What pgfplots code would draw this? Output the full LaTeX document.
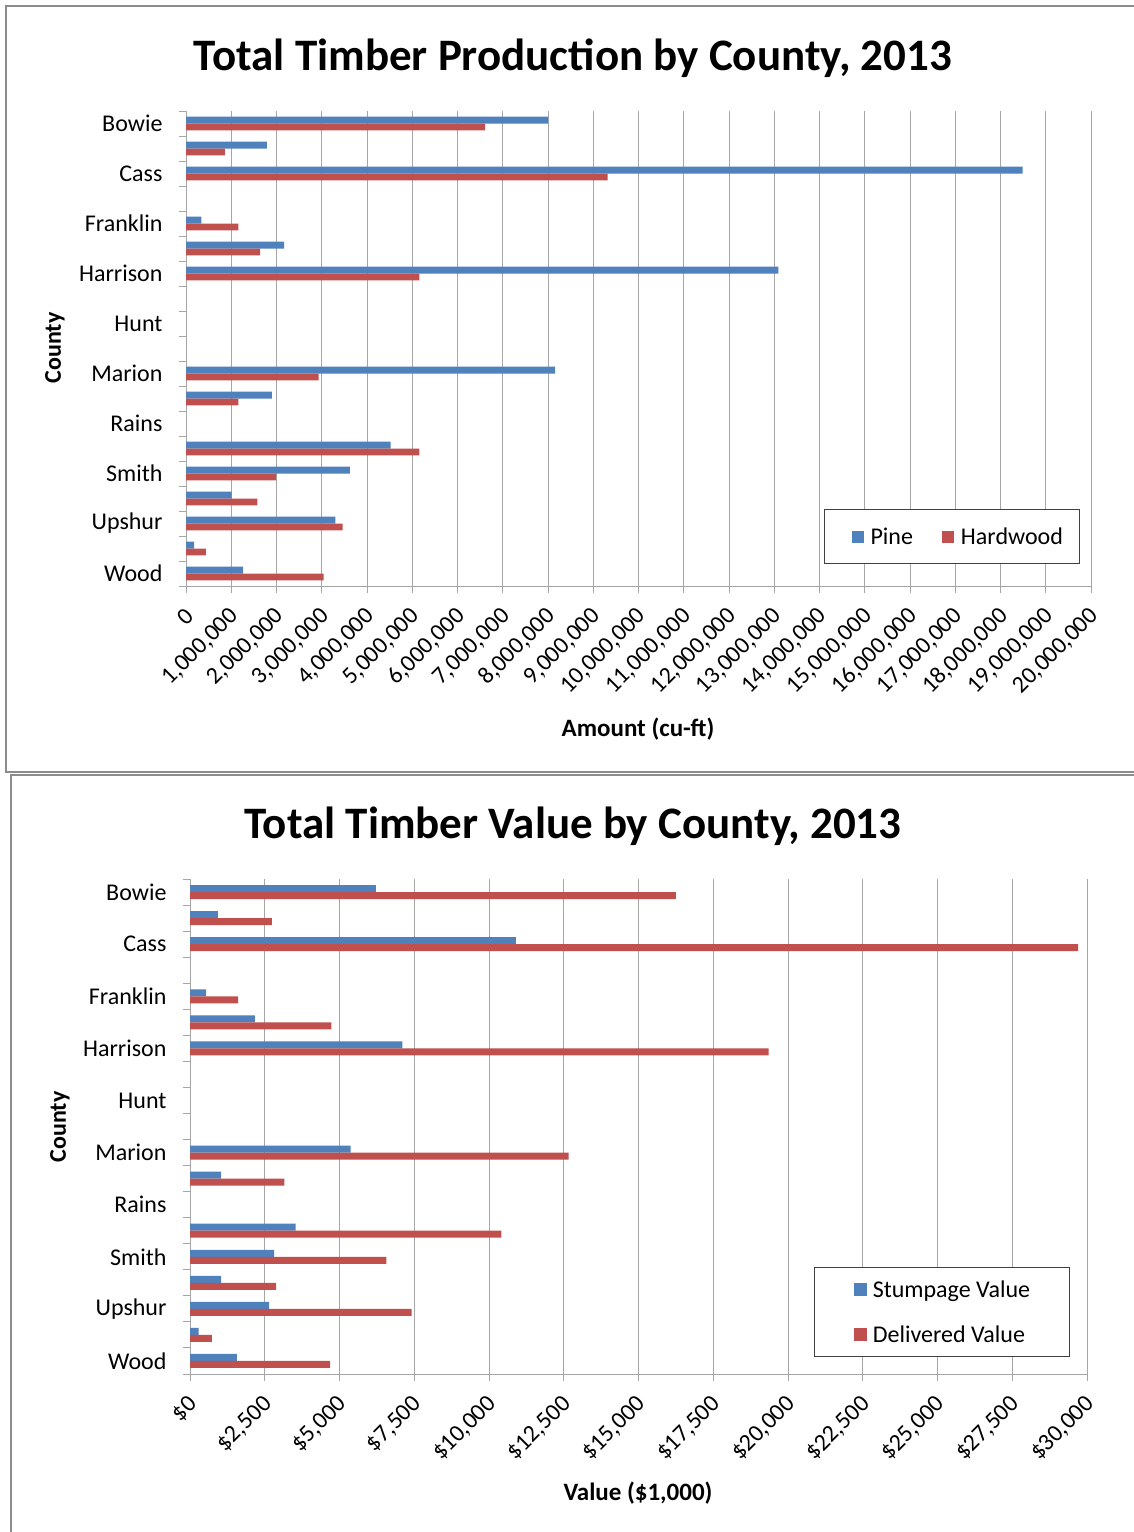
\documentclass[border=0pt]{standalone}
\usepackage{pgfplots}
\pgfplotsset{compat=1.18}
\usepackage{fontspec}
\setmainfont{Carlito}
\definecolor{cblue}{HTML}{4F81BD}
\definecolor{cred}{HTML}{C0504D}
\definecolor{gridgray}{HTML}{A6A6A6}
\definecolor{framegray}{HTML}{8C8C8C}
\newcommand{\fs}[1]{\fontsize{#1pt}{#1pt}\selectfont}
\pgfplotsset{
  timber/.style={
    scale only axis,
    xbar=0pt,
    bar width=6.8pt,
    y dir=reverse,
    ymin=-0.5, ymax=18.5,
    axis x line*=bottom, axis y line*=left,
    axis line style={gridgray, line width=1pt},
    ytick={-0.5,0.5,...,18.5},
    yticklabels={},
    extra y ticks={0,2,...,18},
    extra y tick labels={Bowie,Cass,Franklin,Harrison,Hunt,Marion,Rains,Smith,Upshur,Wood},
    extra y tick style={major tick length=0pt},
    yticklabel style={font=\fs{24}, xshift=-20pt},
    tick align=outside,
    major tick length=7pt,
    tick style={gridgray, line width=1pt},
    xmajorgrids,
    grid style={gridgray, line width=1pt},
    xticklabel style={font=\fs{24}, xshift=5pt, yshift=-18pt, rotate=45, anchor=east, inner sep=2pt},
    /pgf/number format/.cd, fixed, precision=0, 1000 sep={,}, assume math mode=true,
    /pgfplots/.cd,
    scaled x ticks=false,
    legend style={draw=black!75, line width=1pt, font=\fs{24}, nodes={inner sep=0pt}},
  }
}
\begin{document}
\begin{tikzpicture}
\clip (0,0) rectangle (1134pt,-1532pt);
\path[use as bounding box] (0,0) rectangle (1134pt,-1532pt);
\fill[white] (0,0) rectangle (1134pt,-1532pt);
\draw[framegray, line width=2pt] (6pt,-6pt) rectangle (1150pt,-772pt);
\draw[framegray, line width=2pt] (11pt,-775pt) rectangle (1150pt,-1550pt);

% ---------------- top chart ----------------
\begin{axis}[timber,
  at={(186pt,-586pt)}, anchor=south west,
  width=905pt, height=475pt,
  xmin=0, xmax=20000000,
  xtick={0,1000000,...,20000000},
  legend columns=2,
  legend image code/.code={\path (-10pt,0pt) (19pt,0pt); \fill[#1] (0pt,-6pt) rectangle (12pt,6pt);},
  legend style={at={(axis description cs:0.705,0.162)}, anchor=north west,
    inner xsep=17pt, inner ysep=18pt,
    /tikz/every even column/.append style={column sep=19pt}},
]
\addplot[fill=cblue, draw=none, bar shift=3.4pt] coordinates {
(8000000,0) (1790000,1) (18490000,2) (340000,4) (2170000,5) (13090000,6)
(8160000,10) (1900000,11) (4520000,13) (3620000,14) (1010000,15)
(3300000,16) (180000,17) (1260000,18)};
\addlegendentry{Pine}
\addplot[fill=cred, draw=none, bar shift=-3.4pt] coordinates {
(6610000,0) (860000,1) (9320000,2) (1160000,4) (1640000,5) (5160000,6)
(2930000,10) (1160000,11) (5160000,13) (1990000,14) (1580000,15)
(3460000,16) (440000,17) (3040000,18)};
\addlegendentry{Hardwood}
\end{axis}
\node[anchor=base, font=\fs{45}\bfseries] at (573pt,-70pt) {Total Timber Production by County, 2013};
\node[anchor=base, font=\fs{25}\bfseries] at (638pt,-736pt) {Amount (cu-ft)};
\node[rotate=90, font=\fs{24}\bfseries] at (55pt,-348pt) {County};

% ---------------- bottom chart ----------------
\begin{axis}[timber,
  at={(190pt,-1374pt)}, anchor=south west,
  width=897pt, height=495pt,
  bar width=7pt,
  xmin=0, xmax=30000,
  xtick={0,2500,...,30000},
  xticklabel={\$\pgfmathprintnumber{\tick}},
  legend columns=1,
  legend cell align=left,
  legend image code/.code={\path (0pt,0pt) (19pt,0pt); \fill[#1] (0pt,-6pt) rectangle (13pt,7pt);},
  legend style={at={(axis description cs:0.696,0.216)}, anchor=north west,
    inner xsep=39pt, inner ysep=13pt, row sep=27pt},
]
\addplot[fill=cblue, draw=none, bar shift=3.5pt] coordinates {
(6220,0) (930,1) (10900,2) (540,4) (2170,5) (7100,6)
(5370,10) (1040,11) (3530,13) (2810,14) (1040,15)
(2650,16) (290,17) (1570,18)};
\addlegendentry{Stumpage Value}
\addplot[fill=cred, draw=none, bar shift=-3.5pt] coordinates {
(16250,0) (2740,1) (29700,2) (1610,4) (4730,5) (19350,6)
(12660,10) (3160,11) (10410,13) (6570,14) (2880,15)
(7410,16) (730,17) (4690,18)};
\addlegendentry{Delivered Value}
\end{axis}
\node[anchor=base, font=\fs{45}\bfseries] at (573pt,-838pt) {Total Timber Value by County, 2013};
\node[anchor=base, font=\fs{25}\bfseries] at (638pt,-1500pt) {Value (\$1,000)};
\node[rotate=90, font=\fs{24}\bfseries] at (60pt,-1127pt) {County};
\end{tikzpicture}
\end{document}
